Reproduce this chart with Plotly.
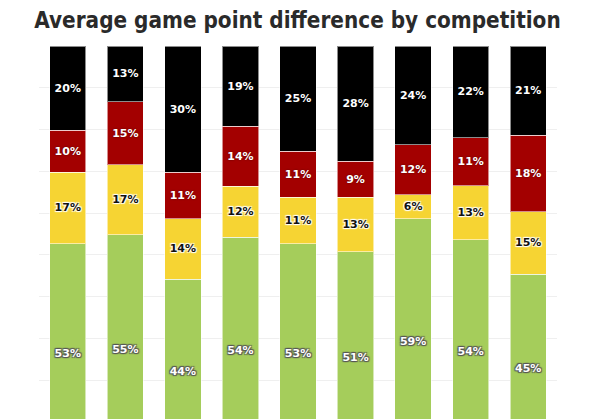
import plotly.graph_objects as go

categories = ["Comp 1", "Comp 2", "Comp 3", "Comp 4", "Comp 5",
              "Comp 6", "Comp 7", "Comp 8", "Comp 9"]

green_vals = [52.7, 54.8, 44.2, 54.2, 52.6, 50.8, 58.6, 53.6, 45.4]
yellow_vals = [17.1, 16.8, 14.4, 12.2, 11.2, 13.0, 5.8, 13.0, 14.9]
red_vals = [10.0, 15.0, 11.2, 14.4, 11.0, 8.6, 12.0, 11.4, 18.3]
black_vals = [20.2, 13.4, 30.2, 19.2, 25.2, 27.6, 23.6, 22.0, 21.4]

green_labels = ["53%", "55%", "44%", "54%", "53%", "51%", "59%", "54%", "45%"]
yellow_labels = ["17%", "17%", "14%", "12%", "11%", "13%", "6%", "13%", "15%"]
red_labels = ["10%", "15%", "11%", "14%", "11%", "9%", "12%", "11%", "18%"]
black_labels = ["20%", "13%", "30%", "19%", "25%", "28%", "24%", "22%", "21%"]

dark_outline = "-1px -1px 1px #555, 1px -1px 1px #555, -1px 1px 1px #555, 1px 1px 1px #555"
light_outline = "-1px -1px 1px #fff, 1px -1px 1px #fff, -1px 1px 1px #fff, 1px 1px 1px #fff"

series = [
    ("Green", green_vals, green_labels, "#a5cd5b", "white", dark_outline),
    ("Yellow", yellow_vals, yellow_labels, "#f6d433", "#111111", light_outline),
    ("Red", red_vals, red_labels, "#a30000", "white", "0px 0px 2px #500"),
    ("Black", black_vals, black_labels, "#000000", "white", "none"),
]

fig = go.Figure()
for name, vals, labels, color, tcolor, shadow in series:
    fig.add_trace(go.Bar(
        x=categories, y=vals, name=name, text=labels,
        textposition="inside", insidetextanchor="middle", textangle=0,
        constraintext="none",
        textfont=dict(family="DejaVu Sans", size=11, color=tcolor,
                      weight="bold", shadow=shadow),
        marker=dict(color=color, line=dict(color="rgba(255,255,255,0.55)", width=1)),
        hoverinfo="skip",
    ))

fig.update_layout(
    barmode="stack",
    bargap=0.37,
    width=600, height=419,
    margin=dict(l=39, r=43, t=46, b=0),
    paper_bgcolor="white", plot_bgcolor="white",
    showlegend=False,
    title=dict(text="Average game point difference by competition",
               x=297.5 / 600, xanchor="center", y=1 - 20 / 419, yanchor="middle",
               font=dict(family="DejaVu Sans Condensed", size=22.3,
                         color="#2a2a2a", weight="bold")),
    xaxis=dict(showticklabels=False, showgrid=False, zeroline=False,
               range=[-0.5, 8.5]),
    yaxis=dict(range=[10.7, 100], dtick=10, showticklabels=False,
               gridcolor="#efefef", gridwidth=1, zeroline=False),
)

fig.write_html("out.html",
               config={"displayModeBar": False},
               post_script="document.body.style.margin='0';document.body.style.overflow='hidden';")
